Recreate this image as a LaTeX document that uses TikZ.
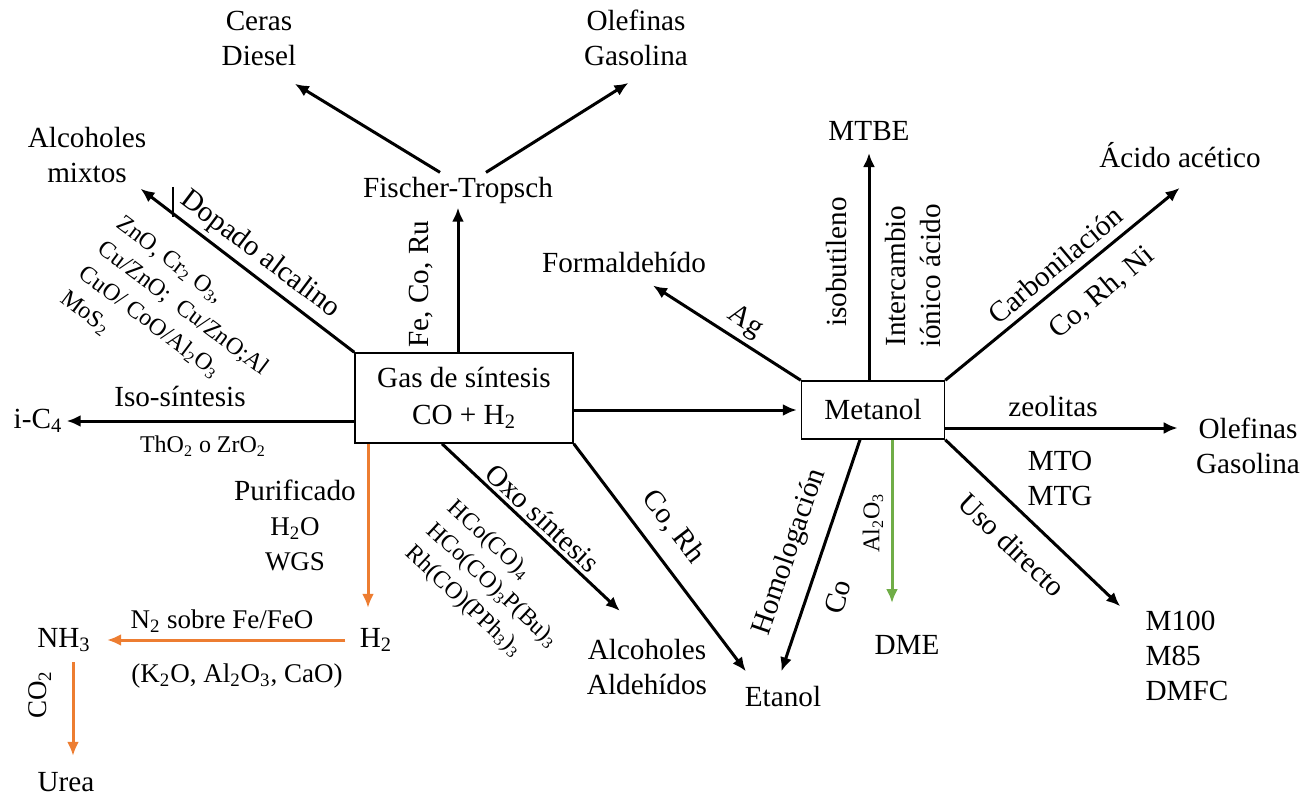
\documentclass[tikz,border=0pt]{standalone}
\usepackage{fontspec}
\setmainfont{Liberation Serif}
\usetikzlibrary{arrows.meta}
\definecolor{naranja}{RGB}{237,125,49}
\definecolor{verde}{RGB}{112,173,71}
\newcommand{\catf}{\fontsize{12}{15.5}\selectfont}
\newcommand{\catg}{\fontsize{13.5}{16}\selectfont}

\begin{document}
\begin{tikzpicture}[x=0.5pt, y=-0.5pt,
    every node/.style={inner sep=2pt, align=center, font=\fontsize{14.6}{17.5}\selectfont},
    caja/.style={draw, line width=0.75pt},
    cat/.style={font=\catf},
    catb/.style={font=\catg},
    flecha/.style={line width=1.5pt, -{Latex[length=7pt,width=6pt]}},
    flechanar/.style={flecha, naranja},
    flechaver/.style={flecha, verde}]

      \useasboundingbox (0,0) rectangle (1307,797);

      % cajas
      \node [caja, minimum width=109pt, minimum height=45pt] at (464,398) (gas) {Gas de síntesis\\[1pt]CO + H\textsubscript{2}};
      \node [caja, minimum width=71.5pt, minimum height=29pt] at (873,410) (metanol) {Metanol};

      % productos
      \node [] at (259,38) (ceras) {Ceras\\Diesel};
      \node [] at (636,38) (olefA) {Olefinas\\Gasolina};
      \node [] at (458,190) (ft) {Fischer-Tropsch};
      \node [] at (87,155) (alcmix) {Alcoholes\\mixtos};
      \node [] at (38,421) (ic4) {i-C\textsubscript{4}};
      \node [] at (376,640) (h2) {H\textsubscript{2}};
      \node [] at (64,640) (nh3) {NH\textsubscript{3}};
      \node [] at (66,782) (urea) {Urea};
      \node [] at (647,667) (alcald) {Alcoholes\\Aldehídos};
      \node [] at (783,697) (etanol) {Etanol};
      \node [] at (624,262) (formal) {Formaldehído};
      \node [] at (869,131) (mtbe) {MTBE};
      \node [] at (1180,155) (acido) {Ácido acético};
      \node [] at (1248,446) (olefB) {Olefinas\\Gasolina};
      \node [align=left] at (1187,656) (mdir) {M100\\M85\\DMFC};
      \node [] at (907,645) (dme) {DME};

      % flechas
      \draw [flecha] (gas.north -| ft) -- (ft);
      \draw [flecha, shorten >=13.5pt] ([xshift=-9pt]ft.north) -- (ceras.-68);
      \draw [flecha, shorten >=11.8pt] ([xshift=14pt]ft.north) -- (olefA.-69);
      \draw [flecha, shorten >=1.3pt] (gas.north west) -- (alcmix.-32);
      \draw [flecha] (gas.west |- ic4) -- (ic4);
      \draw [flechanar, shorten >=8pt] ([xshift=-48pt]gas.south) -- ([xshift=-4pt]h2.north);
      \draw [flechanar, shorten <=5pt, shorten >=6pt] (h2) -- (nh3);
      \draw [flechanar, shorten <=3pt, shorten >=6pt] ([xshift=4.5pt]nh3.south) -- ([xshift=3.5pt]urea.north);
      \draw [flecha, shorten >=17.5pt] ([xshift=-11pt]gas.south) -- (alcald.93);
      \draw [flecha, shorten >=6.9pt] (gas.south east) -- (etanol.153);
      \draw [flecha, shorten >=2pt] (gas.east |- metanol) -- (metanol);
      \draw [flecha, shorten >=8.2pt] (metanol.north west) -- (formal.-44);
      \draw [flecha, shorten >=4pt] (metanol.north -| mtbe) -- (mtbe);
      \draw [flecha, shorten >=12.5pt] (metanol.north east) -- (acido.-42);
      \coordinate (zeo) at ([yshift=-9pt]metanol.east);
      \draw [flecha, shorten >=7pt] (zeo) -- (zeo -| olefB.west);
      \draw [flecha, shorten >=14.5pt] (metanol.south east) -- (mdir.147.5);
      \draw [flecha, shorten >=5.8pt] ([xshift=-6.5pt]metanol.south) -- (etanol.110);
      \draw [flechaver, shorten >=14pt] ([xshift=9.5pt]metanol.south) -- ([xshift=-7.5pt]dme.north);

      % etiquetas
      \node [rotate=90] at (421,284) (lft) {Fe, Co, Ru};
      \node [rotate=-37] at (260,255) (ldop) {Dopado alcalino};
      \node [cat, rotate=-37, anchor=north west, align=left] at (124,208) (lcatmix) {ZnO, Cr\textsubscript{2} O\textsubscript{3},\\Cu/ZnO;\enspace Cu/ZnO;Al\\CuO/ CoO/Al\textsubscript{2}O\textsubscript{3}\\MoS\textsubscript{2}};
      \draw [line width=0.6pt] (173,187) -- (173,217);
      \node [] at (180,396) (liso) {Iso-síntesis};
      \node [cat] at (203,446) (lthzr) {ThO\textsubscript{2} o ZrO\textsubscript{2}};
      \node [] at (295,525) (lpur) {Purificado\\{\catg H\textsubscript{2}O}\\{\catg WGS}};
      \node [catb] at (222,621) (ln2) {N\textsubscript{2} sobre Fe/FeO};
      \node [catb] at (237,676) (lk2o) {(K\textsubscript{2}O, Al\textsubscript{2}O\textsubscript{3}, CaO)};
      \node [catb, rotate=90] at (40,695) (lco2) {CO\textsubscript{2}};
      \node [rotate=-43] at (543,518) (loxo) {Oxo síntesis};
      \node [cat, rotate=-43, anchor=north west, align=left] at (458,491) (lcatoxo) {HCo(CO)\textsubscript{4}\\HCo(CO)\textsubscript{3}P(Bu)\textsubscript{3}\\Rh(CO)(PPh\textsubscript{3})\textsubscript{3}};
      \node [rotate=-52.5] at (673,527) (lcorh) {Co, Rh};
      \node [rotate=-34] at (745,322) (lag) {Ag};
      \node [rotate=90] at (837,262) (liso2) {isobutileno};
      \node [rotate=90] at (913,276) (linter) {Intercambio\\iónico ácido};
      \node [rotate=40] at (1055,265) (lcarb) {Carbonilación};
      \node [rotate=40] at (1102,293) (lcorhni) {Co, Rh, Ni};
      \node [] at (1053,407) (lzeo) {zeolitas};
      \node [] at (1060,478) (lmto) {MTO\\MTG};
      \node [rotate=-43.6] at (1012,545) (luso) {Uso directo};
      \node [rotate=71] at (790,552) (lhomo) {Homologación};
      \node [rotate=75] at (838,597) (lco) {Co};
      \node [cat, rotate=90] at (873,523) (lal) {Al\textsubscript{2}O\textsubscript{3}};
    \end{tikzpicture}
\end{document}
